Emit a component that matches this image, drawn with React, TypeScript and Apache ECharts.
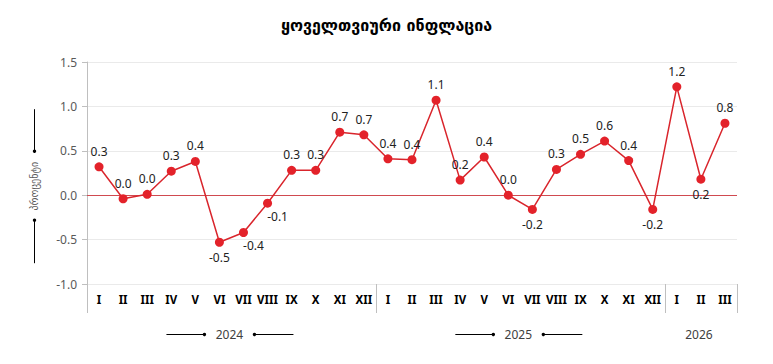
import React, { useEffect, useRef } from "react";
import * as echarts from "echarts";

// ---- data ----
const title = "ყოველთვიური ინფლაცია";
const yAxisName = "პროცენტი";
const romanMonths = ["I", "II", "III", "IV", "V", "VI", "VII", "VIII", "IX", "X", "XI", "XII"];
const years = ["2024", "2025", "2026"];
const monthsPerYear = [12, 12, 3];
const inflation2024 = [0.32, -0.04, 0.01, 0.27, 0.38, -0.53, -0.42, -0.09, 0.28, 0.28, 0.71, 0.68];
const inflation2025 = [0.41, 0.4, 1.07, 0.17, 0.43, 0.0, -0.16, 0.29, 0.46, 0.61, 0.39, -0.16];
const inflation2026 = [1.22, 0.18, 0.81];
const yMin = -1.0;
const yMax = 1.5;
const yStep = 0.5;
// label placement exceptions (index in the combined series)
const labelBelowIdx = [5, 6, 7, 18, 23, 25];
const labelShiftRightIdx = [6, 7];

const categories: string[] = years.flatMap((y, i) =>
  romanMonths.slice(0, monthsPerYear[i]).map((m) => `${m}|${y}`)
);
const values: number[] = [...inflation2024, ...inflation2025, ...inflation2026];

const fmt = (v: number) => {
  const s = v.toFixed(1);
  return s === "-0.0" ? "0.0" : s;
};

const FONT = "'Noto Sans', 'DejaVu Sans', sans-serif";
const ZERO_COLOR = "#D04A50";

export default function App() {
  const ref = useRef<HTMLDivElement>(null);

  useEffect(() => {
    document.body.style.margin = "0";
    if (!ref.current) return;
    const chart = echarts.init(ref.current, null, { renderer: "svg" });

    const seriesData = values.map((v, i) => {
      const below = labelBelowIdx.includes(i);
      const shift = labelShiftRightIdx.includes(i);
      return {
        value: v,
        label: {
          position: below ? "bottom" : "top",
          offset: shift ? [10, -2] : [0, 0],
        },
      };
    });

    chart.setOption({
      animation: false,
      title: {
        text: title,
        left: "center",
        top: 12,
        textStyle: {
          fontFamily: "'DejaVu Sans', sans-serif",
          fontSize: 16,
          fontWeight: "bold",
          color: "#000",
        },
      },
      grid: { left: 87, right: 36, top: 62, bottom: 80, containLabel: false },
      xAxis: {
        type: "category",
        data: categories,
        boundaryGap: true,
        axisLine: { show: false, onZero: false },
        axisTick: { show: false },
        splitLine: { show: false },
        axisLabel: {
          interval: 0,
          margin: 9,
          fontFamily: FONT,
          fontSize: 11.5,
          fontWeight: "bold",
          color: "#000",
          formatter: (v: string) => v.split("|")[0],
        },
      },
      yAxis: {
        type: "value",
        min: yMin,
        max: yMax,
        interval: yStep,
        axisLine: { show: true, lineStyle: { color: "#BFBFBF", width: 1 } },
        axisTick: { show: true, length: 5, lineStyle: { color: "#BFBFBF" } },
        splitLine: { show: true, lineStyle: { color: "#EAEAEA", width: 1 } },
        axisLabel: {
          margin: 10,
          fontFamily: FONT,
          fontSize: 12,
          color: "#595959",
          formatter: (v: number) => v.toFixed(1),
        },
      },
      series: [
        {
          type: "line",
          data: seriesData,
          symbol: "circle",
          symbolSize: 9,
          itemStyle: { color: "#E3222A" },
          lineStyle: { color: "#D9252C", width: 1.5 },
          label: {
            show: true,
            fontFamily: FONT,
            fontSize: 12,
            color: "#222",
            distance: 5,
            formatter: (p: any) => fmt(p.value),
          },
          z: 3,
        },
      ],
    });

    // decorations computed from the chart's own scales
    const px0 = chart.convertToPixel({ xAxisIndex: 0 }, 0) as number;
    const px1 = chart.convertToPixel({ xAxisIndex: 0 }, 1) as number;
    const band = px1 - px0;
    const boundary = (i: number) => px0 - band / 2 + i * band;
    const yBottom = chart.convertToPixel({ yAxisIndex: 0 }, yMin) as number;
    const yZero = chart.convertToPixel({ yAxisIndex: 0 }, 0) as number;
    const xAxisLine = boundary(0);
    const xRight = boundary(values.length);

    const graphics: any[] = [];
    // zero reference line
    graphics.push({
      type: "rect",
      z: 2,
      shape: { x: xAxisLine, y: Math.round(yZero), width: xRight - xAxisLine, height: 1 },
      style: { fill: ZERO_COLOR },
      silent: true,
    });
    const sepIdx: number[] = [0];
    let acc = 0;
    monthsPerYear.forEach((n) => {
      acc += n;
      sepIdx.push(acc);
    });
    sepIdx.forEach((i) => {
      const x = Math.round(boundary(i)) + 0.5;
      graphics.push({
        type: "line",
        shape: { x1: x, y1: yBottom, x2: x, y2: yBottom + 29 },
        style: { stroke: "#BFBFBF", lineWidth: 1 },
        silent: true,
      });
    });
    const yearY = yBottom + 50;
    years.forEach((yr, i) => {
      const cx = (boundary(sepIdx[i]) + boundary(sepIdx[i + 1])) / 2 - 2;
      graphics.push({
        type: "text",
        x: cx,
        y: yearY,
        style: {
          text: yr,
          fontFamily: FONT,
          fontSize: 12,
          fill: "#404040",
          align: "center",
          verticalAlign: "middle",
        },
        silent: true,
      });
      if (monthsPerYear[i] >= 12) {
        graphics.push(
          {
            type: "line",
            shape: { x1: cx - 63, y1: yearY + 0.5, x2: cx - 25, y2: yearY + 0.5 },
            style: { stroke: "#000", lineWidth: 1 },
            silent: true,
          },
          { type: "circle", shape: { cx: cx - 25, cy: yearY + 0.5, r: 1.7 }, style: { fill: "#000" }, silent: true },
          {
            type: "line",
            shape: { x1: cx + 25, y1: yearY + 0.5, x2: cx + 64, y2: yearY + 0.5 },
            style: { stroke: "#000", lineWidth: 1 },
            silent: true,
          },
          { type: "circle", shape: { cx: cx + 25, cy: yearY + 0.5, r: 1.7 }, style: { fill: "#000" }, silent: true }
        );
      }
    });

    // y-axis title with arrows
    const nameX = xAxisLine - 53;
    const nameY = yZero - 9;
    graphics.push(
      {
        type: "text",
        x: nameX,
        y: nameY,
        rotation: Math.PI / 2,
        style: {
          text: yAxisName,
          fontFamily: "'DejaVu Sans', sans-serif",
          fontSize: 10,
          fill: "#595959",
          align: "center",
          verticalAlign: "middle",
        },
        silent: true,
      },
      {
        type: "line",
        shape: { x1: nameX + 0.5, y1: nameY - 77, x2: nameX + 0.5, y2: nameY - 35 },
        style: { stroke: "#000", lineWidth: 1 },
        silent: true,
      },
      { type: "circle", shape: { cx: nameX + 0.5, cy: nameY - 35, r: 1.7 }, style: { fill: "#000" }, silent: true },
      {
        type: "line",
        shape: { x1: nameX + 0.5, y1: nameY + 34, x2: nameX + 0.5, y2: nameY + 77 },
        style: { stroke: "#000", lineWidth: 1 },
        silent: true,
      },
      { type: "circle", shape: { cx: nameX + 0.5, cy: nameY + 34, r: 1.7 }, style: { fill: "#000" }, silent: true }
    );

    chart.setOption({ graphic: graphics });

    return () => chart.dispose();
  }, []);

  return <div ref={ref} style={{ width: 773, height: 364 }} />;
}
